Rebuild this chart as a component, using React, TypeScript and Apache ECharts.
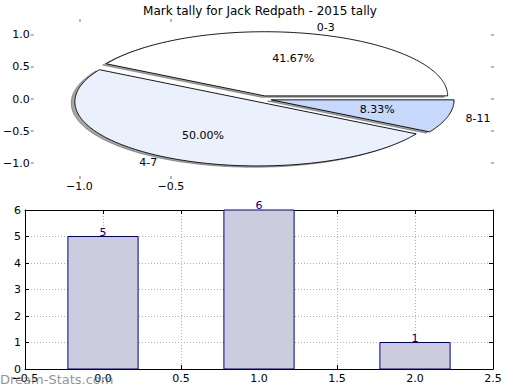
import React, { useEffect, useRef } from "react";
import * as echarts from "echarts";

const chartTitle = "Mark tally for Jack Redpath - 2015 tally";
const pieLabels = ["0-3", "4-7", "8-11"];
const pieValues = [5, 6, 1];
const pieColors = ["#ffffff", "#eaf0fc", "#c6d9fd"];
const pieExplode = [0.05, 0.05, 0.05];
const pieXTicks = [-1, -0.5];
const pieYTicks = [-1, -0.5, 0, 0.5, 1];

const barPositions = [0, 1, 2];
const barValues = [5, 6, 1];
const barWidth = 0.45;

const watermark = "Dream-Stats.com";

const FONT = "DejaVu Sans";
const fmt1 = (v: number) => (v < 0 ? "\u2212" : "") + Math.abs(v).toFixed(1);

export default function App() {
  const ref = useRef<HTMLDivElement>(null);
  useEffect(() => {
    if (!ref.current) return;
    const chart = echarts.init(ref.current, null, { renderer: "svg" });
    const total = pieValues.reduce((a, b) => a + b, 0);

    const tickStyle = { color: "#a0a0a0", width: 1.5 };
    const hiddenLine = { show: true, onZero: false, lineStyle: { color: "#fff", opacity: 0 } };
    const option: any = {
      animation: false,
      backgroundColor: "#fff",
      textStyle: { fontFamily: FONT },
      title: {
        text: chartTitle,
        left: "center",
        top: 0,
        textStyle: { fontFamily: FONT, fontSize: 12, fontWeight: "normal", color: "#000" },
      },
      grid: [
        { left: 27, top: 22, width: 464, height: 154 },
        { left: 25, top: 210, width: 468, height: 159 },
      ],
      xAxis: [
        {
          gridIndex: 0, type: "value", min: -1.25, max: 1.25, position: "bottom",
          axisLine: hiddenLine, splitLine: { show: false },
          axisTick: { show: true, customValues: pieXTicks, length: 3, inside: false, lineStyle: tickStyle },
          axisLabel: { customValues: pieXTicks, formatter: fmt1, color: "#000", fontSize: 11, fontFamily: FONT, margin: 5 },
        },
        {
          gridIndex: 0, type: "value", min: -1.25, max: 1.25, position: "top",
          axisLine: hiddenLine, splitLine: { show: false },
          axisTick: { show: true, customValues: pieXTicks, length: 3, inside: false, lineStyle: tickStyle },
          axisLabel: { show: false },
        },
        {
          gridIndex: 1, type: "value", min: -0.5, max: 2.5, interval: 0.5, position: "bottom",
          axisLine: { show: true, onZero: false, lineStyle: { color: "#000", width: 1 } },
          splitLine: { show: true, lineStyle: { color: "#b0b0b0", type: [1, 2], width: 1 } },
          axisTick: { show: true, inside: true, length: 4, lineStyle: { color: "#000" } },
          axisLabel: { formatter: fmt1, color: "#000", fontSize: 11, fontFamily: FONT, margin: 4, showMinLabel: true, showMaxLabel: true },
        },
        {
          gridIndex: 1, type: "value", min: -0.5, max: 2.5, interval: 0.5, position: "top",
          axisLine: { show: true, onZero: false, lineStyle: { color: "#000", width: 1 } },
          splitLine: { show: false },
          axisTick: { show: true, inside: true, length: 4, lineStyle: { color: "#000" } },
          axisLabel: { show: false },
        },
      ],
      yAxis: [
        {
          gridIndex: 0, type: "value", min: -1.2, max: 1.2, position: "left",
          axisLine: hiddenLine, splitLine: { show: false },
          axisTick: { show: true, customValues: pieYTicks, length: 3, inside: false, lineStyle: tickStyle },
          axisLabel: { customValues: pieYTicks, formatter: fmt1, color: "#000", fontSize: 11, fontFamily: FONT, margin: 4 },
        },
        {
          gridIndex: 0, type: "value", min: -1.2, max: 1.2, position: "right",
          axisLine: hiddenLine, splitLine: { show: false },
          axisTick: { show: true, customValues: pieYTicks, length: 3, inside: false, lineStyle: tickStyle },
          axisLabel: { show: false },
        },
        {
          gridIndex: 1, type: "value", min: 0, max: 6, interval: 1, position: "left",
          axisLine: { show: true, onZero: false, lineStyle: { color: "#000", width: 1 } },
          splitLine: { show: true, lineStyle: { color: "#b0b0b0", type: [1, 2], width: 1 } },
          axisTick: { show: true, inside: true, length: 4, lineStyle: { color: "#000" } },
          axisLabel: { color: "#000", fontSize: 11, fontFamily: FONT, margin: 4, showMinLabel: true, showMaxLabel: true },
        },
        {
          gridIndex: 1, type: "value", min: 0, max: 6, interval: 1, position: "right",
          axisLine: { show: true, onZero: false, lineStyle: { color: "#000", width: 1 } },
          splitLine: { show: false },
          axisTick: { show: true, inside: true, length: 4, lineStyle: { color: "#000" } },
          axisLabel: { show: false },
        },
      ],
      series: [
        {
          type: "custom",
          xAxisIndex: 0,
          yAxisIndex: 0,
          clip: false,
          data: pieValues.map((v, i) => [0, 0, v, i]),
          renderItem: (params: any, api: any) => {
            const i = params.dataIndex;
            let start = 0;
            for (let j = 0; j < i; j++) start += (pieValues[j] / total) * 360;
            const sweep = (pieValues[i] / total) * 360;
            const midDeg = start + sweep / 2;
            const mid = (midDeg * Math.PI) / 180;
            const ex = pieExplode[i];
            const cx = ex * Math.cos(mid);
            const cy = ex * Math.sin(mid);
            const pts = (ox: number, oy: number) => {
              const arr: number[][] = [api.coord([cx + ox, cy + oy])];
              const n = Math.max(8, Math.ceil(sweep));
              for (let k = 0; k <= n; k++) {
                const a = ((start + (sweep * k) / n) * Math.PI) / 180;
                arr.push(api.coord([cx + ox + Math.cos(a), cy + oy + Math.sin(a)]));
              }
              return arr;
            };
            const lblPos = api.coord([cx + 1.1 * Math.cos(mid), cy + 1.1 * Math.sin(mid)]);
            const pctPos = api.coord([cx + 0.6 * Math.cos(mid), cy + 0.6 * Math.sin(mid)]);
            const labelAlign = cx + 1.1 * Math.cos(mid) > 0 ? "left" : "right";
            const pct = ((pieValues[i] / total) * 100).toFixed(2) + "%";
            return {
              type: "group",
              children: [
                {
                  type: "polygon",
                  z2: 0,
                  shape: { points: pts(-0.02, -0.02) },
                  style: { fill: "rgba(77,77,77,0.5)", stroke: "rgba(77,77,77,0.5)", lineWidth: 1 },
                },
                {
                  type: "polygon",
                  z2: 10,
                  shape: { points: pts(0, 0) },
                  style: { fill: pieColors[i], stroke: "#000", lineWidth: 0.9 },
                },
                {
                  type: "text",
                  z2: 20,
                  x: lblPos[0],
                  y: lblPos[1],
                  style: { text: pieLabels[i], fill: "#000", font: `11px "${FONT}"`, align: labelAlign, verticalAlign: "middle" },
                },
                {
                  type: "text",
                  z2: 20,
                  x: pctPos[0],
                  y: pctPos[1],
                  style: { text: pct, fill: "#000", font: `11px "${FONT}"`, align: "center", verticalAlign: "middle" },
                },
              ],
            };
          },
        },
        {
          type: "custom",
          xAxisIndex: 2,
          yAxisIndex: 2,
          data: barPositions.map((p, i) => [p, barValues[i]]),
          renderItem: (params: any, api: any) => {
            const x = api.value(0);
            const v = api.value(1);
            const tl = api.coord([x - barWidth / 2, v]);
            const br = api.coord([x + barWidth / 2, 0]);
            const top = api.coord([x, v]);
            return {
              type: "group",
              children: [
                {
                  type: "rect",
                  shape: { x: tl[0], y: tl[1], width: br[0] - tl[0], height: br[1] - tl[1] },
                  style: { fill: "#ccccdf", stroke: "#000080", lineWidth: 1 },
                },
                {
                  type: "text",
                  x: top[0],
                  y: top[1] + 1,
                  style: { text: String(v), fill: "#000080", font: `11px "${FONT}"`, align: "center", verticalAlign: "bottom" },
                },
              ],
            };
          },
        },
      ],
      graphic: [
        {
          type: "text",
          left: 0,
          top: 373,
          z: 100,
          style: { text: watermark, fill: "rgba(110,110,110,0.75)", font: `13px "${FONT}"` },
        },
      ],
    };
    chart.setOption(option);
    return () => chart.dispose();
  }, []);
  return (
    <div
      ref={ref}
      style={{ position: "fixed", left: 0, top: 0, width: 520, height: 390, background: "#fff" }}
    />
  );
}
